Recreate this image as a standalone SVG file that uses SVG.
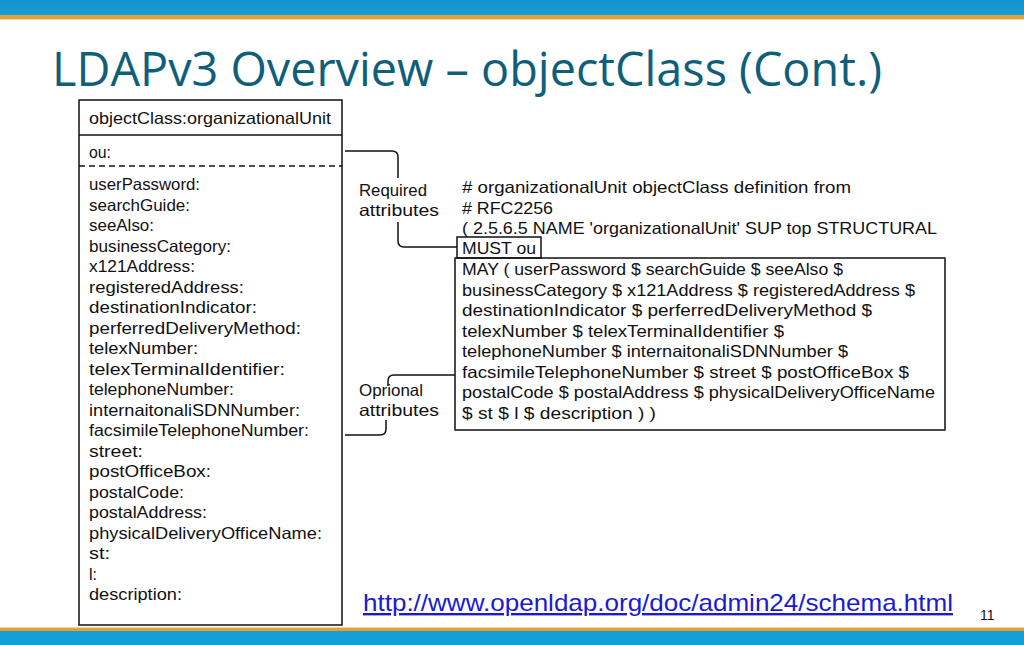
<svg xmlns="http://www.w3.org/2000/svg" width="1024" height="645" viewBox="0 0 1024 645">
<defs>
<linearGradient id="topbar" x1="0" y1="0" x2="0" y2="1">
<stop offset="0" stop-color="#1592c9"/><stop offset="1" stop-color="#14a0d6"/>
</linearGradient>
<style>
.c{font-family:"Liberation Sans",Arial,sans-serif;font-size:16.5px;fill:#111}
.box{fill:none;stroke:#111;stroke-width:1.5}
.br{fill:none;stroke:#111;stroke-width:1.5}
</style>
</defs>
<rect width="1024" height="645" fill="#fff"/>
<!-- banners -->
<rect x="0" y="0" width="1024" height="15" fill="url(#topbar)"/>
<rect x="0" y="15" width="1024" height="4" fill="#e6a036"/>
<rect x="0" y="19" width="1024" height="1" fill="#f6d79a"/>
<rect x="0" y="627" width="1024" height="1" fill="#f6d79a"/>
<rect x="0" y="628" width="1024" height="3" fill="#e6a036"/>
<rect x="0" y="631" width="1024" height="14" fill="#14a0d6"/>
<!-- title -->
<text x="52" y="86" font-family="'Open Sans','Noto Sans',sans-serif" font-size="47" fill="#0f5f7b" textLength="830" lengthAdjust="spacingAndGlyphs">LDAPv3 Overview – objectClass (Cont.)</text>

<g id="class-box">
<rect class="box" x="79" y="100" width="263" height="525"/>
<line class="box" x1="79" y1="135" x2="342" y2="135"/>
<line x1="79" y1="166" x2="342" y2="166" stroke="#111" stroke-width="1.5" stroke-dasharray="6,4"/>
<text class="c" x="89" y="124" textLength="242" lengthAdjust="spacingAndGlyphs">objectClass:organizationalUnit</text>
<text class="c" x="89" y="158" textLength="22" lengthAdjust="spacingAndGlyphs">ou:</text>
<text class="c" x="89" y="190" textLength="111" lengthAdjust="spacingAndGlyphs">userPassword:</text>
<text class="c" x="89" y="210.5" textLength="101" lengthAdjust="spacingAndGlyphs">searchGuide:</text>
<text class="c" x="89" y="231" textLength="65" lengthAdjust="spacingAndGlyphs">seeAlso:</text>
<text class="c" x="89" y="251.5" textLength="142" lengthAdjust="spacingAndGlyphs">businessCategory:</text>
<text class="c" x="89" y="272" textLength="106" lengthAdjust="spacingAndGlyphs">x121Address:</text>
<text class="c" x="89" y="292.5" textLength="155" lengthAdjust="spacingAndGlyphs">registeredAddress:</text>
<text class="c" x="89" y="313" textLength="168" lengthAdjust="spacingAndGlyphs">destinationIndicator:</text>
<text class="c" x="89" y="333.5" textLength="212" lengthAdjust="spacingAndGlyphs">perferredDeliveryMethod:</text>
<text class="c" x="89" y="354" textLength="109" lengthAdjust="spacingAndGlyphs">telexNumber:</text>
<text class="c" x="89" y="374.5" textLength="196" lengthAdjust="spacingAndGlyphs">telexTerminalIdentifier:</text>
<text class="c" x="89" y="395" textLength="145" lengthAdjust="spacingAndGlyphs">telephoneNumber:</text>
<text class="c" x="89" y="415.5" textLength="211" lengthAdjust="spacingAndGlyphs">internaitonaliSDNNumber:</text>
<text class="c" x="89" y="436" textLength="220" lengthAdjust="spacingAndGlyphs">facsimileTelephoneNumber:</text>
<text class="c" x="89" y="456.5" textLength="54" lengthAdjust="spacingAndGlyphs">street:</text>
<text class="c" x="89" y="477" textLength="122" lengthAdjust="spacingAndGlyphs">postOfficeBox:</text>
<text class="c" x="89" y="497.5" textLength="95" lengthAdjust="spacingAndGlyphs">postalCode:</text>
<text class="c" x="89" y="518" textLength="118" lengthAdjust="spacingAndGlyphs">postalAddress:</text>
<text class="c" x="89" y="538.5" textLength="233" lengthAdjust="spacingAndGlyphs">physicalDeliveryOfficeName:</text>
<text class="c" x="89" y="559" textLength="21" lengthAdjust="spacingAndGlyphs">st:</text>
<text class="c" x="89" y="579.5" textLength="8" lengthAdjust="spacingAndGlyphs">l:</text>
<text class="c" x="89" y="600" textLength="93" lengthAdjust="spacingAndGlyphs">description:</text>
</g>

<g id="definition">
<rect class="box" x="457" y="237" width="84" height="21"/>
<rect class="box" x="455" y="258" width="490" height="172"/>
<text class="c" x="462" y="193" textLength="389" lengthAdjust="spacingAndGlyphs"># organizationalUnit objectClass definition from</text>
<text class="c" x="462" y="214" textLength="91" lengthAdjust="spacingAndGlyphs"># RFC2256</text>
<text class="c" x="462" y="234" textLength="475" lengthAdjust="spacingAndGlyphs">( 2.5.6.5 NAME 'organizationalUnit' SUP top STRUCTURAL</text>
<text class="c" x="462" y="254" textLength="74" lengthAdjust="spacingAndGlyphs">MUST ou</text>
<text class="c" x="462" y="275" textLength="381" lengthAdjust="spacingAndGlyphs">MAY ( userPassword $ searchGuide $ seeAlso $</text>
<text class="c" x="462" y="295.5" textLength="453" lengthAdjust="spacingAndGlyphs">businessCategory $ x121Address $ registeredAddress $</text>
<text class="c" x="462" y="316" textLength="410" lengthAdjust="spacingAndGlyphs">destinationIndicator $ perferredDeliveryMethod $</text>
<text class="c" x="462" y="336.5" textLength="322" lengthAdjust="spacingAndGlyphs">telexNumber $ telexTerminalIdentifier $</text>
<text class="c" x="462" y="357" textLength="386" lengthAdjust="spacingAndGlyphs">telephoneNumber $ internaitonaliSDNNumber $</text>
<text class="c" x="462" y="377.5" textLength="447" lengthAdjust="spacingAndGlyphs">facsimileTelephoneNumber $ street $ postOfficeBox $</text>
<text class="c" x="462" y="398" textLength="473" lengthAdjust="spacingAndGlyphs">postalCode $ postalAddress $ physicalDeliveryOfficeName</text>
<text class="c" x="462" y="418.5" textLength="194" lengthAdjust="spacingAndGlyphs">$ st $ l $ description ) )</text>
</g>

<g id="label-required">
<text class="c" x="359" y="196" textLength="68" lengthAdjust="spacingAndGlyphs">Required</text>
<text class="c" x="359" y="216" textLength="80" lengthAdjust="spacingAndGlyphs">attributes</text>
</g>
<g id="label-optional">
<text class="c" x="359" y="396" textLength="64" lengthAdjust="spacingAndGlyphs">Oprional</text>
<text class="c" x="359" y="416" textLength="80" lengthAdjust="spacingAndGlyphs">attributes</text>
</g>

<g id="connectors">
<path class="br" d="M345,151 H392 Q398,151 398,157 V178"/>
<path class="br" d="M398,222 V241 Q398,247 404,247 H457"/>
<path class="br" d="M388,386 V381 Q388,375 394,375 H455"/>
<path class="br" d="M345,435 H380 Q386,435 386,429 V420"/>
</g>

<text x="363" y="611" font-family="'Liberation Sans',Arial,sans-serif" font-size="24" fill="#1a1ad6" text-decoration="underline" textLength="590" lengthAdjust="spacingAndGlyphs">http://www.openldap.org/doc/admin24/schema.html</text>
<text x="980" y="620" font-family="'Liberation Sans',Arial,sans-serif" font-size="14" fill="#111">11</text>
</svg>
